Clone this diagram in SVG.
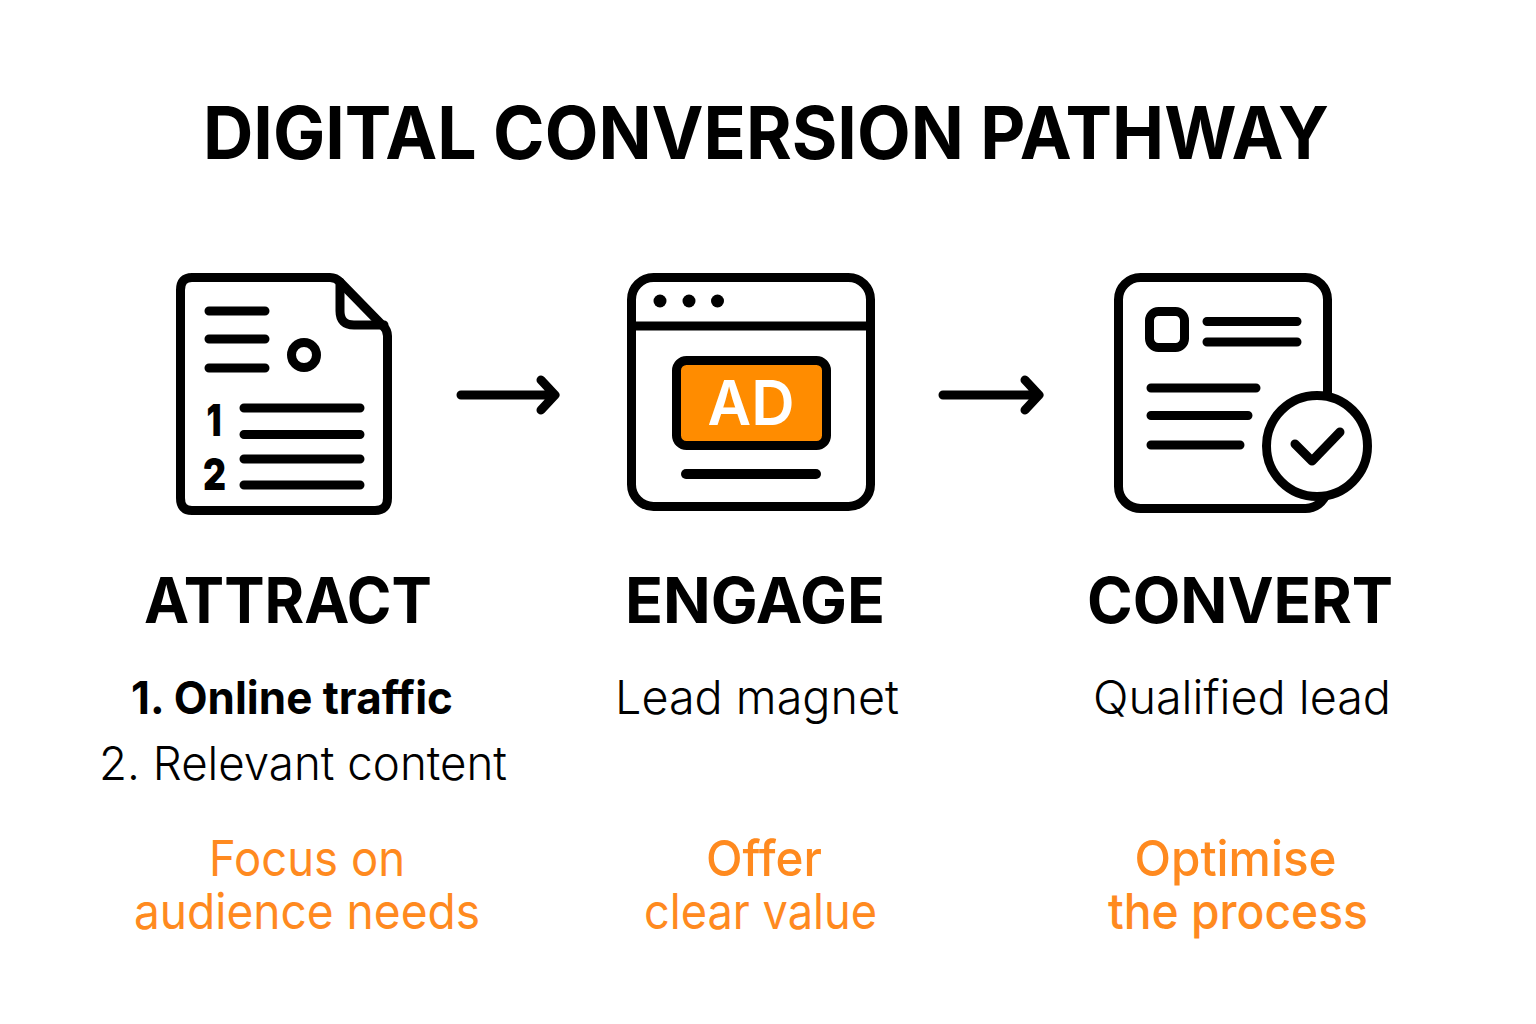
<svg xmlns="http://www.w3.org/2000/svg" width="1536" height="1024" viewBox="0 0 1536 1024">
<style>
text{font-family:Inter,"Liberation Sans",sans-serif;text-anchor:middle}
.ln{fill:none;stroke:#000;stroke-width:9;stroke-linecap:round;stroke-linejoin:round}
.head{font-size:63px;font-weight:700;fill:#000}
.body{font-size:47px;font-weight:300;fill:#000}
.tip{font-size:49.500px;font-weight:400;fill:#FF8A1F}
.num{font-size:44px;font-weight:900;fill:#000}
</style>
<rect width="1536" height="1024" fill="#fff"/>
<text x="766" y="159" font-size="73" font-weight="700" fill="#000" id="title" textLength="1126" lengthAdjust="spacingAndGlyphs">DIGITAL CONVERSION PATHWAY</text>
<g id="attract">
<path class="ln" d="M192 277.5H330Q336 277.5 340 282L383 326Q387.500 330 387.500 336V498Q387.500 510.500 375 510.500H192Q180.500 510.500 180.500 498V290Q180.500 277.500 192 277.500Z"/>
<path class="ln" d="M340 282V311Q340 325 354 325H384"/>
<path class="ln" d="M209 311H265M209 339H265M209 368H265"/>
<circle class="ln" cx="304" cy="355" r="12.500"/>
<path class="ln" d="M244 408H360M244 434.500H360M244 459H360M244 485H360"/>
<text class="num" x="214" y="436" textLength="15" lengthAdjust="spacingAndGlyphs">1</text>
<text class="num" x="214.500" y="490" textLength="23" lengthAdjust="spacingAndGlyphs">2</text>
<text class="head" x="288" y="622.500" textLength="288" lengthAdjust="spacingAndGlyphs">ATTRACT</text>
<text class="body" x="292" y="714" style="font-size:45px;font-weight:700" textLength="322" lengthAdjust="spacingAndGlyphs">1. Online traffic</text>
<text class="body" x="303" y="780" textLength="408" lengthAdjust="spacingAndGlyphs">2. Relevant content</text>
<text class="tip" x="307" y="876" textLength="196" lengthAdjust="spacingAndGlyphs">Focus on</text>
<text class="tip" x="307" y="929" textLength="346" lengthAdjust="spacingAndGlyphs">audience needs</text>
</g>
<g id="engage">
<rect class="ln" x="631.500" y="277.500" width="239" height="229" rx="22"/>
<path class="ln" d="M632 326H870" stroke-linecap="butt"/>
<circle cx="660" cy="301" r="6.500"/><circle cx="689" cy="301" r="6.500"/><circle cx="717.500" cy="301" r="6.500"/>
<rect x="676.500" y="360.500" width="150" height="85" rx="10" fill="#FF8C00" stroke="#000" stroke-width="9"/>
<text x="751" y="425" font-size="62" font-weight="600" fill="#fff" textLength="87" lengthAdjust="spacingAndGlyphs">AD</text>
<path class="ln" d="M686 474H816" style="stroke-width:10"/>
<text class="head" x="755" y="622.500" textLength="260" lengthAdjust="spacingAndGlyphs">ENGAGE</text>
<text class="body" x="757" y="714" textLength="284" lengthAdjust="spacingAndGlyphs">Lead magnet</text>
<text class="tip" x="764" y="876" style="font-weight:500" textLength="116" lengthAdjust="spacingAndGlyphs">Offer</text>
<text class="tip" x="760.500" y="929" textLength="233" lengthAdjust="spacingAndGlyphs">clear value</text>
</g>
<g id="convert">
<rect class="ln" x="1118.500" y="277.500" width="209" height="231" rx="22"/>
<circle class="ln" cx="1317" cy="446" r="50.500" style="fill:#fff"/>
<rect class="ln" x="1149.500" y="311.500" width="35" height="36" rx="9"/>
<path class="ln" d="M1207 321.500H1297M1207 342H1297M1151 388H1256M1151 415.500H1248M1151 445H1240"/>
<path class="ln" d="M1295 444L1312 461L1340 432"/>
<text class="head" x="1240" y="622.500" textLength="306" lengthAdjust="spacingAndGlyphs">CONVERT</text>
<text class="body" x="1242" y="714" textLength="298" lengthAdjust="spacingAndGlyphs">Qualified lead</text>
<text class="tip" x="1235.500" y="876" style="font-weight:500" textLength="202" lengthAdjust="spacingAndGlyphs">Optimise</text>
<text class="tip" x="1238" y="929" style="font-weight:500" textLength="260" lengthAdjust="spacingAndGlyphs">the process</text>
</g>
<g id="connectors">
<path class="ln" d="M461 395H555M541 380L555 395L541 410"/>
<path class="ln" d="M943 395H1039M1025 380L1039 395L1025 410"/>
</g>
</svg>
